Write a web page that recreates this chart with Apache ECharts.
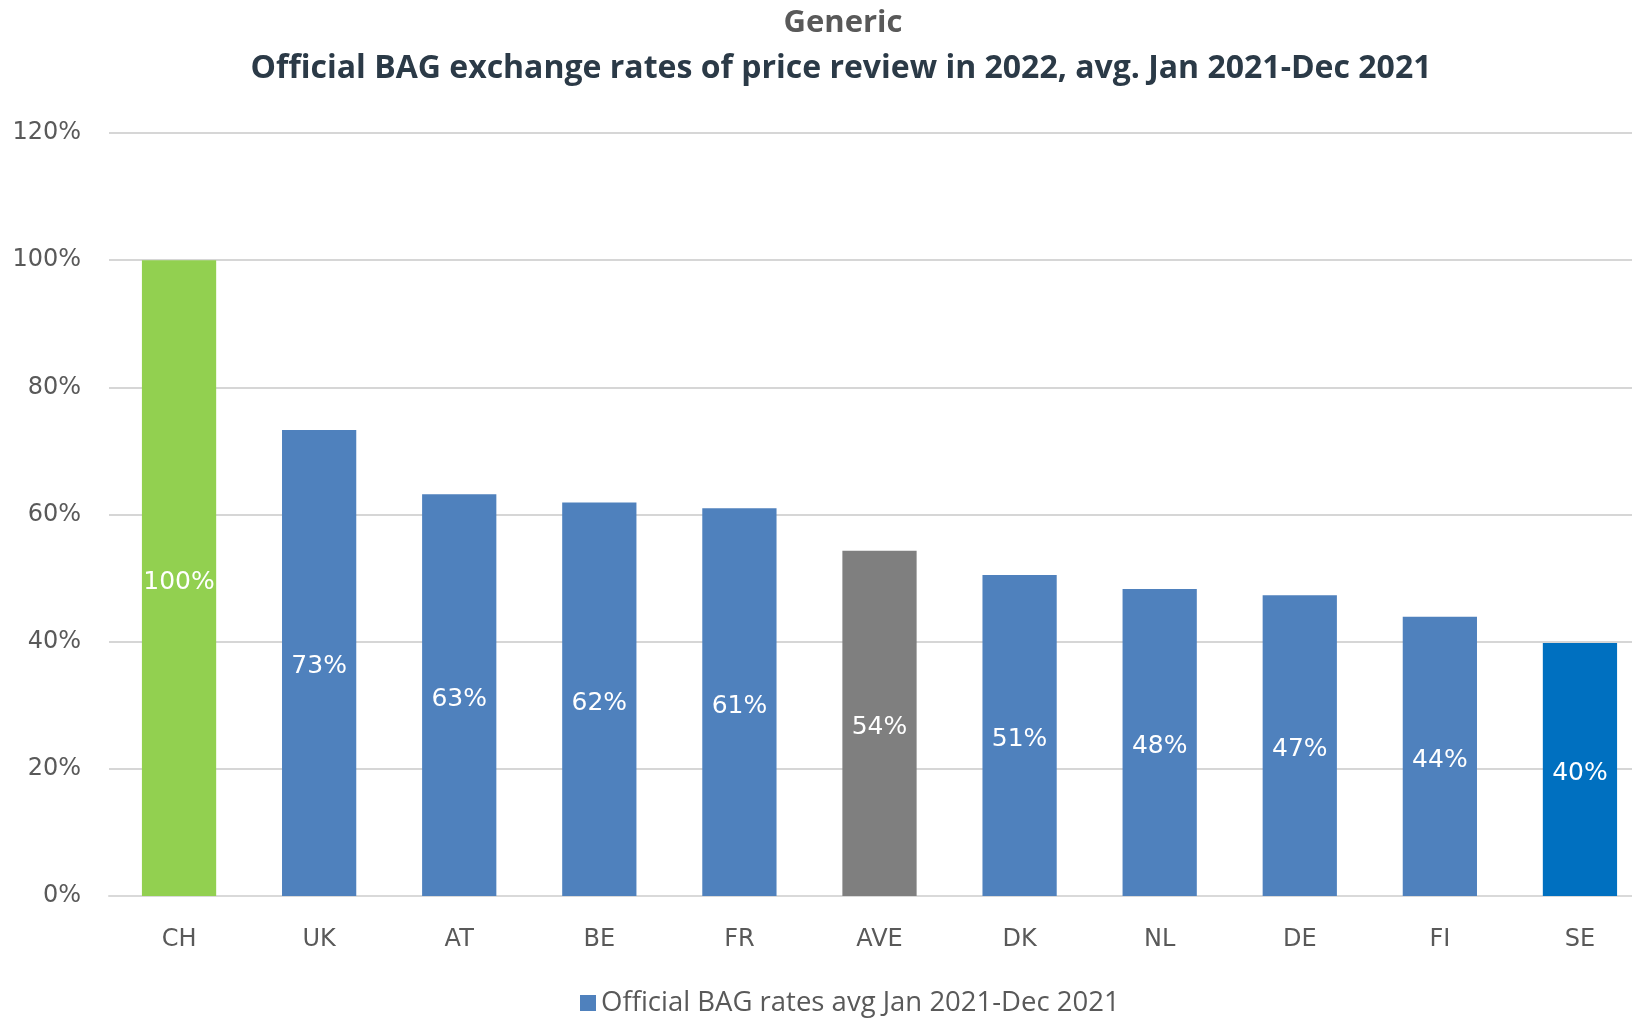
<!DOCTYPE html>
<html>
<head>
<meta charset="utf-8">
<script src="https://cdn.jsdelivr.net/npm/echarts@6/dist/echarts.min.js"></script>
<style>
  html, body { margin: 0; padding: 0; background: #fff; overflow: hidden; }
  /* the original plot runs past the right edge, so the canvas is a bit wider than the window */
  #chart { width: 1650px; height: 1020px; }
</style>
</head>
<body>
<div id="chart"></div>
<script>
// values
var countries = ['CH', 'UK', 'AT', 'BE', 'FR', 'AVE', 'DK', 'NL', 'DE', 'FI', 'SE'];
var rates = [100, 73.3, 63.2, 61.9, 61.0, 54.3, 50.5, 48.3, 47.3, 43.9, 39.8];
var barColors = ['#92D050', '#4F81BD', '#4F81BD', '#4F81BD', '#4F81BD', '#7F7F7F',
                 '#4F81BD', '#4F81BD', '#4F81BD', '#4F81BD', '#0070C0'];
var yTicks = [0, 20, 40, 60, 80, 100, 120];

var chart = echarts.init(document.getElementById('chart'));

var seriesData = rates.map(function (v, i) {
    return { value: v, itemStyle: { color: barColors[i] } };
});

chart.setOption({
    backgroundColor: '#fff',
    animation: false,
    title: [{
        text: 'Generic',
        left: 838,
        top: 3,
        textAlign: 'center',
        textStyle: { fontFamily: 'Open Sans', fontWeight: 'bold', fontSize: 31, color: '#595959' }
    }, {
        text: 'Official BAG exchange rates of price review in 2022, avg. Jan 2021-Dec 2021',
        left: 836,
        top: 48,
        textAlign: 'center',
        textStyle: { fontFamily: 'Open Sans', fontWeight: 'bold', fontSize: 32, color: '#2B3A47' }
    }],
    legend: {
        data: ['Official BAG rates avg Jan 2021-Dec 2021'],
        left: 575,
        bottom: -2,
        itemWidth: 16,
        itemHeight: 16,
        itemGap: 6,
        icon: 'rect',
        textStyle: { fontFamily: 'Open Sans', fontSize: 27.5, color: '#595959' }
    },
    grid: {
        left: 109,
        right: 0,
        top: 133,
        bottom: 124
    },
    xAxis: {
        type: 'category',
        data: countries,
        axisTick: { show: false },
        axisLine: { lineStyle: { color: '#D9D9D9', width: 2 } },
        axisLabel: { fontFamily: 'DejaVu Sans', fontSize: 24, color: '#595959', margin: 32 }
    },
    yAxis: {
        type: 'value',
        min: 0,
        max: 120,
        interval: 20,
        axisLine: { show: false },
        axisTick: { show: false },
        splitLine: { lineStyle: { color: '#D6D6D6', width: 2 } },
        axisLabel: {
            fontFamily: 'DejaVu Sans', fontSize: 24, color: '#595959', margin: 28,
            formatter: function (v) { return yTicks.indexOf(v) >= 0 ? v + '%' : ''; }
        }
    },
    series: [{
        name: 'Official BAG rates avg Jan 2021-Dec 2021',
        type: 'bar',
        barWidth: '53%',
        itemStyle: { color: '#4F81BD' },
        label: {
            show: true,
            position: 'inside',
            offset: [0, 4],
            fontFamily: 'DejaVu Sans',
            fontSize: 25,
            color: '#fff',
            formatter: function (p) { return Math.round(p.value) + '%'; }
        },
        data: seriesData
    }]
});
</script>
</body>
</html>
